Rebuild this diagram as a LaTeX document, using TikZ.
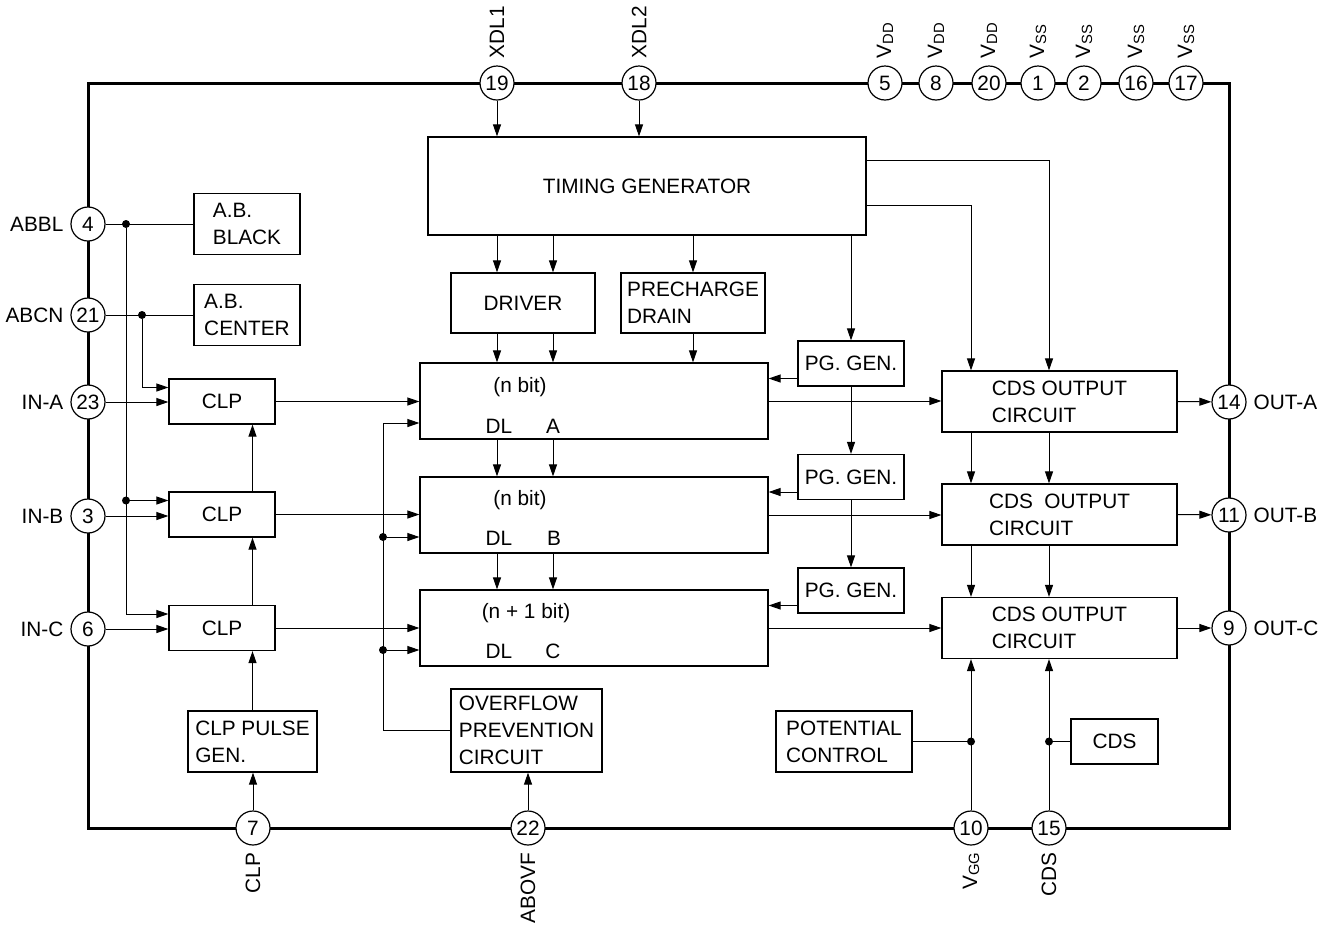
\documentclass[tikz,border=0pt]{standalone}
\usepackage{fontspec}
\setmainfont{Liberation Sans}
\usetikzlibrary{arrows.meta}

\newcommand{\petit}[1]{{\fontsize{7.4}{8}\selectfont\raisebox{-1pt}{#1}}}

\begin{document}
\begin{tikzpicture}[x=0.5pt,y=-0.5pt,
    font=\fontsize{10.4}{13.5}\selectfont,
    bloc/.style={draw,line width=0.6pt,align=left,inner sep=0pt},
    broche/.style={draw,circle,fill=white,line width=0.6pt,minimum size=17pt,inner sep=0pt},
    fil/.style={line width=0.5pt},
    fl/.style={fil,-{Triangle[length=6pt,width=4pt]}},
    pt/.style={circle,fill,inner sep=0pt,minimum size=4pt}]
        \useasboundingbox (0,0) rectangle (1342,927);
        % Boitier
        \draw [line width=1.5pt] (88,83) rectangle (1229,828);
        % Broches du haut
        \node[broche] (p19) at (497,83) {19};
        \node[broche] (p18) at (639,83) {18};
        \node[broche] (p5) at (885,83) {5};
        \node[broche] (p8) at (936,83) {8};
        \node[broche] (p20) at (989,83) {20};
        \node[broche] (p1) at (1038,83) {1};
        \node[broche] (p2) at (1084,83) {2};
        \node[broche] (p16) at (1136,83) {16};
        \node[broche] (p17) at (1186,83) {17};
        \node[rotate=90,anchor=west] (l19) at (p19.north) {XDL1};
        \node[rotate=90,anchor=west] (l18) at (p18.north) {XDL2};
        \node[rotate=90,anchor=west] (l5) at (p5.north) {V\petit{DD}};
        \node[rotate=90,anchor=west] (l8) at (p8.north) {V\petit{DD}};
        \node[rotate=90,anchor=west] (l20) at (p20.north) {V\petit{DD}};
        \node[rotate=90,anchor=west] (l1) at (p1.north) {V\petit{SS}};
        \node[rotate=90,anchor=west] (l2) at (p2.north) {V\petit{SS}};
        \node[rotate=90,anchor=west] (l16) at (p16.north) {V\petit{SS}};
        \node[rotate=90,anchor=west] (l17) at (p17.north) {V\petit{SS}};
        % Broches de gauche
        \node[broche] (p4) at (88,224) {4};
        \node[broche] (p21) at (88,315) {21};
        \node[broche] (p23) at (88,402) {23};
        \node[broche] (p3) at (88,516) {3};
        \node[broche] (p6) at (88,629) {6};
        \node[anchor=east] (l4) at (p4.west) {ABBL};
        \node[anchor=east] (l21) at (p21.west) {ABCN};
        \node[anchor=east] (l23) at (p23.west) {IN-A};
        \node[anchor=east] (l3) at (p3.west) {IN-B};
        \node[anchor=east] (l6) at (p6.west) {IN-C};
        % Broches de droite
        \node[broche] (p14) at (1229,402) {14};
        \node[broche] (p11) at (1229,515) {11};
        \node[broche] (p9) at (1229,628) {9};
        \node[anchor=west] (l14) at (p14.east) {OUT-A};
        \node[anchor=west] (l11) at (p11.east) {OUT-B};
        \node[anchor=west] (l9) at (p9.east) {OUT-C};
        % Broches du bas
        \node[broche] (p7) at (253,828) {7};
        \node[broche] (p22) at (528,828) {22};
        \node[broche] (p10) at (971,828) {10};
        \node[broche] (p15) at (1049,828) {15};
        \node[rotate=90,anchor=east] (l7) at (p7.south) {CLP};
        \node[rotate=90,anchor=east] (l22) at (p22.south) {ABOVF};
        \node[rotate=90,anchor=east] (l10) at (p10.south) {V\petit{GG}};
        \node[rotate=90,anchor=east] (l15) at (p15.south) {CDS};
        % Blocs
        \node[bloc,minimum width=219pt,minimum height=49pt] (tg) at (647,186) {TIMING GENERATOR};
        \node[bloc,minimum width=72pt,minimum height=30pt] (drv) at (523,303) {DRIVER};
        \node[bloc,minimum width=72pt,minimum height=30pt] (pre) at (693,303) {PRECHARGE\\DRAIN};
        \node[bloc,minimum width=174pt,minimum height=38pt] (rA) at (594,401) {};
        \node[bloc,minimum width=174pt,minimum height=38pt] (rB) at (594,515) {};
        \node[bloc,minimum width=174pt,minimum height=38pt] (rC) at (594,628) {};
        \node (nA) at (520,387) {(n bit)};
        \node (dlA) at (499,426) {DL};
        \node (tA) at (553,426) {A};
        \node (nB) at (520,500) {(n bit)};
        \node (dlB) at (499,538) {DL};
        \node (tB) at (554,538) {B};
        \node (nC) at (526,613) {(n + 1 bit)};
        \node (dlC) at (499,651) {DL};
        \node (tC) at (553,651) {C};
        \node[bloc,minimum width=53pt,minimum height=22.5pt] (pgA) at (851,363.5) {PG. GEN.};
        \node[bloc,minimum width=53pt,minimum height=22.5pt] (pgB) at (851,477) {PG. GEN.};
        \node[bloc,minimum width=53pt,minimum height=22.5pt] (pgC) at (851,590.5) {PG. GEN.};
        \node[bloc,minimum width=117.5pt,minimum height=30.5pt] (cdsA) at (1059.5,401.5) {CDS OUTPUT\\CIRCUIT};
        \node[bloc,minimum width=117.5pt,minimum height=30.5pt] (cdsB) at (1059.5,514.5) {CDS\ \ OUTPUT\\CIRCUIT};
        \node[bloc,minimum width=117.5pt,minimum height=30.5pt] (cdsC) at (1059.5,628) {CDS OUTPUT\\CIRCUIT};
        \node[bloc,minimum width=53pt,minimum height=30.5pt] (abk) at (247,224) {A.B.\\BLACK};
        \node[bloc,minimum width=53pt,minimum height=30.5pt] (abc) at (247,315) {A.B.\\CENTER};
        \node[bloc,minimum width=53pt,minimum height=22.5pt] (clpA) at (222,401.5) {CLP};
        \node[bloc,minimum width=53pt,minimum height=22.5pt] (clpB) at (222,514.5) {CLP};
        \node[bloc,minimum width=53pt,minimum height=22.5pt] (clpC) at (222,628) {CLP};
        \node[bloc,minimum width=64.5pt,minimum height=30.5pt] (cpg) at (252.5,741.5) {CLP PULSE\\GEN.};
        \node[bloc,minimum width=75.5pt,minimum height=41.5pt] (ovf) at (526.5,730.5) {OVERFLOW\\PREVENTION\\CIRCUIT};
        \node[bloc,minimum width=68pt,minimum height=30.5pt] (pot) at (844,741.5) {POTENTIAL\\CONTROL};
        \node[bloc,minimum width=43.5pt,minimum height=22.5pt] (cds) at (1114.5,741.5) {CDS};
        % Colonnes
        \coordinate (xdl) at (497,0);
        \coordinate (xa) at (553,0);
        \coordinate (xvg) at (971,0);
        \coordinate (xcd) at (1049,0);
        \coordinate (xbk) at (126,0);
        \coordinate (xcn) at (142,0);
        \coordinate (xof) at (383,0);
        % Timing generator
        \draw[fl] (p19) -- (p19 |- tg.north);
        \draw[fl] (p18) -- (p18 |- tg.north);
        \draw[fl] (tg.south -| xdl) -- (drv.north -| xdl);
        \draw[fl] (tg.south -| xa) -- (drv.north -| xa);
        \draw[fl] (tg.south -| pre.north) -- (pre.north);
        \draw[fl] (tg.south -| pgA.north) -- (pgA.north);
        \draw[fl] ([yshift=13pt]tg.east) -| (cdsA.north -| xcd);
        \draw[fl] ([yshift=-9.5pt]tg.east) -| (cdsA.north -| xvg);
        % Driver et registres
        \draw[fl] (drv.south -| xdl) -- (rA.north -| xdl);
        \draw[fl] (drv.south -| xa) -- (rA.north -| xa);
        \draw[fl] (pre.south) -- (pre.south |- rA.north);
        \draw[fl] (rA.south -| xdl) -- (rB.north -| xdl);
        \draw[fl] (rA.south -| xa) -- (rB.north -| xa);
        \draw[fl] (rB.south -| xdl) -- (rC.north -| xdl);
        \draw[fl] (rB.south -| xa) -- (rC.north -| xa);
        % PG GEN
        \draw[fl] (pgA.south) -- (pgB.north);
        \draw[fl] (pgB.south) -- (pgC.north);
        \draw[fl] ([yshift=-7.5pt]pgA.west) -- ([yshift=-7.5pt]pgA.west -| rA.east);
        \draw[fl] ([yshift=-7.5pt]pgB.west) -- ([yshift=-7.5pt]pgB.west -| rB.east);
        \draw[fl] ([yshift=-7.5pt]pgC.west) -- ([yshift=-7.5pt]pgC.west -| rC.east);
        % Sorties CDS
        \draw[fl] (rA.east) -- (rA.east -| cdsA.west);
        \draw[fl] (rB.east) -- (rB.east -| cdsB.west);
        \draw[fl] (rC.east) -- (rC.east -| cdsC.west);
        \draw[fl] (cdsA.east) -- (p14);
        \draw[fl] (cdsB.east) -- (p11);
        \draw[fl] (cdsC.east) -- (p9);
        \draw[fl] (cdsA.south -| xvg) -- (cdsB.north -| xvg);
        \draw[fl] (cdsA.south -| xcd) -- (cdsB.north -| xcd);
        \draw[fl] (cdsB.south -| xvg) -- (cdsC.north -| xvg);
        \draw[fl] (cdsB.south -| xcd) -- (cdsC.north -| xcd);
        % VGG et CDS
        \draw[fl] (p10) -- (cdsC.south -| xvg);
        \draw[fl] (p15) -- (cdsC.south -| xcd);
        \draw[fil] (pot.east) -- (pot.east -| xvg) node[pt] (dvg) {};
        \draw[fil] (cds.west) -- (cds.west -| xcd) node[pt] (dcd) {};
        % Entrees
        \draw[fil] (p4) -- (p4 -| abk.west);
        \draw[fil] (p21) -- (p21 -| abc.west);
        \node[pt] (dbk) at (p4 -| xbk) {};
        \node[pt] (dcn) at (p21 -| xcn) {};
        \node[pt] (dbkB) at ([yshift=7pt]clpB.west -| xbk) {};
        \draw[fl] (dbk) |- ([yshift=7pt]clpC.west);
        \draw[fl] (dbkB) -- ([yshift=7pt]clpB.west);
        \draw[fl] (dcn) |- ([yshift=7pt]clpA.west);
        \draw[fl] (p23) -- (p23 -| clpA.west);
        \draw[fl] (p3) -- (p3 -| clpB.west);
        \draw[fl] (p6) -- (p6 -| clpC.west);
        % CLP
        \draw[fl] (p7) -- (p7 |- cpg.south);
        \draw[fl] (cpg.north) -- (cpg.north |- clpC.south);
        \draw[fl] (clpC.north -| cpg.north) -- (clpB.south -| cpg.north);
        \draw[fl] (clpB.north -| cpg.north) -- (clpA.south -| cpg.north);
        \draw[fl] (clpA.east) -- (clpA.east -| rA.west);
        \draw[fl] (clpB.east) -- (clpB.east -| rB.west);
        \draw[fl] (clpC.east) -- (clpC.east -| rC.west);
        % Overflow
        \draw[fl] (p22) -- (p22 |- ovf.south);
        \draw[fl] (ovf.west) -| ([yshift=-11pt]rA.west -| xof) -- ([yshift=-11pt]rA.west);
        \node[pt] (dofB) at ([yshift=-11pt]rB.west -| xof) {};
        \node[pt] (dofC) at ([yshift=-11pt]rC.west -| xof) {};
        \draw[fl] (dofB) -- ([yshift=-11pt]rB.west);
        \draw[fl] (dofC) -- ([yshift=-11pt]rC.west);
    \end{tikzpicture}
\end{document}
